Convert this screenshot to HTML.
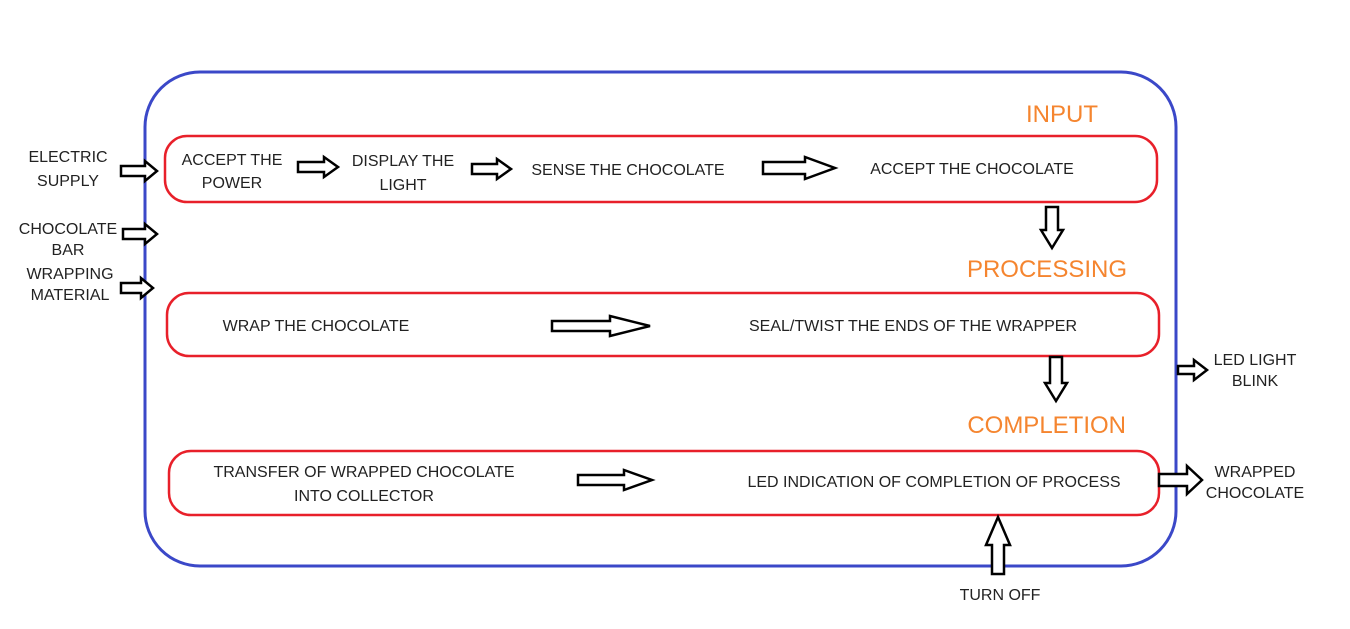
<!DOCTYPE html>
<html><head><meta charset="utf-8"><style>
body{margin:0;background:#fff}
svg{display:block}
text{font-family:"Liberation Sans","DejaVu Sans",sans-serif;font-size:16px;fill:#222}
.h{fill:#f5852f;font-size:24px}
</style></head><body>
<svg width="1350" height="629" viewBox="0 0 1350 629">
<rect x="145" y="72" width="1031" height="494" rx="55" fill="none" stroke="#3b48c8" stroke-width="3"/>
<rect x="165" y="136" width="992" height="66" rx="22" fill="none" stroke="#e8202a" stroke-width="2.5"/>
<rect x="167" y="293" width="992" height="63" rx="22" fill="none" stroke="#e8202a" stroke-width="2.5"/>
<rect x="169" y="451" width="990" height="64" rx="22" fill="none" stroke="#e8202a" stroke-width="2.5"/>
<g id="arrows" fill="#fff" stroke="#000" stroke-width="2.5"></g>
<text class="h" x="1098" y="122" text-anchor="end">INPUT</text>
<text class="h" x="1127" y="277" text-anchor="end">PROCESSING</text>
<text class="h" x="1126" y="433" text-anchor="end">COMPLETION</text>
<g text-anchor="middle">
<text x="68" y="162">ELECTRIC</text>
<text x="68" y="186">SUPPLY</text>
<text x="68" y="234">CHOCOLATE</text>
<text x="68" y="255">BAR</text>
<text x="70" y="279">WRAPPING</text>
<text x="70" y="300">MATERIAL</text>
<text x="232" y="165">ACCEPT THE</text>
<text x="232" y="188">POWER</text>
<text x="403" y="166">DISPLAY THE</text>
<text x="403" y="190">LIGHT</text>
<text x="628" y="175">SENSE THE CHOCOLATE</text>
<text x="972" y="174">ACCEPT THE CHOCOLATE</text>
<text x="316" y="331">WRAP THE CHOCOLATE</text>
<text x="913" y="331">SEAL/TWIST THE ENDS OF THE WRAPPER</text>
<text x="364" y="477">TRANSFER OF WRAPPED CHOCOLATE</text>
<text x="364" y="501">INTO COLLECTOR</text>
<text x="934" y="487">LED INDICATION OF COMPLETION OF PROCESS</text>
<text x="1255" y="365">LED LIGHT</text>
<text x="1255" y="386">BLINK</text>
<text x="1255" y="477">WRAPPED</text>
<text x="1255" y="498">CHOCOLATE</text>
<text x="1000" y="600">TURN OFF</text>
</g>
</svg>
<script>
const g=document.getElementById('arrows');
function h(x1,x2,y,s,hh,hl,name){
 const xb=x2-hl;
 const p=document.createElementNS('http://www.w3.org/2000/svg','polygon');
 p.setAttribute('points',`${x1},${y-s} ${xb},${y-s} ${xb},${y-hh} ${x2},${y} ${xb},${y+hh} ${xb},${y+s} ${x1},${y+s}`);
 
 
 g.appendChild(p);
}
function v(x,y1,y2,s,hh,hl,name){
 const yb=y2>y1?y2-hl:y2+hl;
 const p=document.createElementNS('http://www.w3.org/2000/svg','polygon');
 p.setAttribute('points',`${x-s},${y1} ${x-s},${yb} ${x-hh},${yb} ${x},${y2} ${x+hh},${yb} ${x+s},${yb} ${x+s},${y1}`);
 
 
 g.appendChild(p);
}
h(121,157,171,5,10,12,'electric-supply-arrow');
h(123,157,234,5,10,12,'chocolate-bar-arrow');
h(121,153,288,5,10,12,'wrapping-material-arrow');
h(298,338,167,5,10,14,'power-to-light-arrow');
h(472,511,169,5,10,14,'light-to-sense-arrow');
h(763,835,168,6,11,30,'sense-to-accept-arrow');
h(552,650,326,5,10,40,'wrap-to-seal-arrow');
h(578,652,480,5,10,28,'transfer-to-led-arrow');
h(1178,1207,370,4,10,13,'led-blink-arrow');
h(1159,1202,480,6,14,15,'wrapped-output-arrow');
v(1052,207,248,6,11,18,'input-to-processing-arrow');
v(1056,357,401,6,11,18,'processing-to-completion-arrow');
v(998,574,517,6,12,28,'turn-off-arrow');
</script>
</body></html>
